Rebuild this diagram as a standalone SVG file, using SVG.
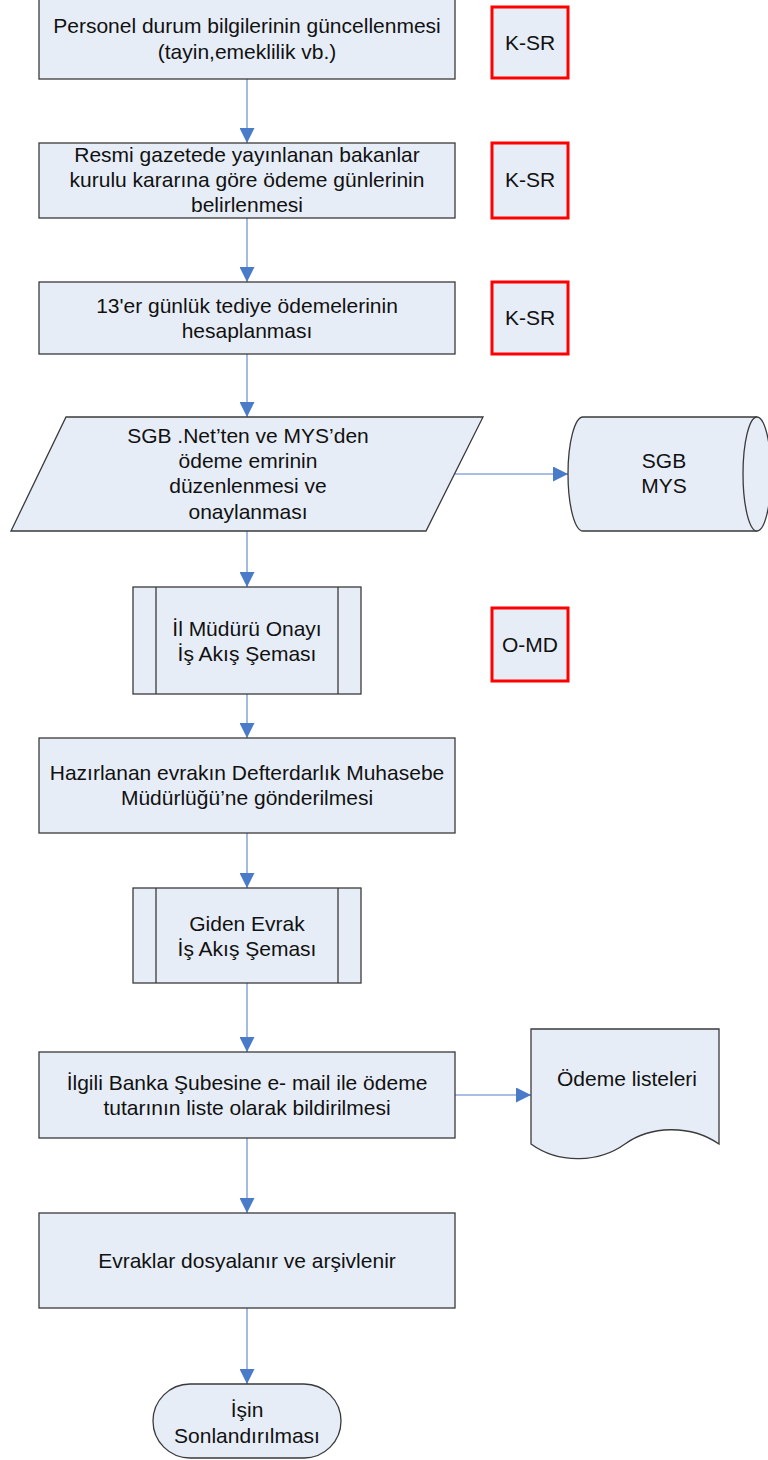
<svg xmlns="http://www.w3.org/2000/svg" width="768" height="1460" viewBox="0 0 768 1460">
<style>
.s{fill:#E7EDF7;stroke:#3a3a3a;stroke-width:1.3}
.r{fill:#E7EDF7;stroke:#FF0000;stroke-width:3}
.t{font-family:"Liberation Sans",Arial,sans-serif;font-size:21px;fill:#111;text-anchor:middle}
.c{stroke:#8EA9DB;stroke-width:1.6;fill:none}
</style>
<defs>
<marker id="a" markerUnits="userSpaceOnUse" markerWidth="15" markerHeight="15" refX="15" refY="7.5" orient="auto">
<path d="M0,0 L15,7.5 L0,15 Z" fill="#4A7BC8"/>
</marker>
</defs>
<rect width="768" height="1460" fill="#fff"/>
<g id="connectors">
<line class="c" x1="247" y1="79" x2="247" y2="143" marker-end="url(#a)"/>
<line class="c" x1="247" y1="218" x2="247" y2="282" marker-end="url(#a)"/>
<line class="c" x1="247" y1="354" x2="247" y2="417" marker-end="url(#a)"/>
<line class="c" x1="455" y1="474" x2="568" y2="474" marker-end="url(#a)"/>
<line class="c" x1="247" y1="531" x2="247" y2="587" marker-end="url(#a)"/>
<line class="c" x1="247" y1="694" x2="247" y2="738" marker-end="url(#a)"/>
<line class="c" x1="247" y1="833" x2="247" y2="888" marker-end="url(#a)"/>
<line class="c" x1="247" y1="983" x2="247" y2="1052" marker-end="url(#a)"/>
<line class="c" x1="455" y1="1095" x2="531" y2="1095" marker-end="url(#a)"/>
<line class="c" x1="247" y1="1138" x2="247" y2="1213" marker-end="url(#a)"/>
<line class="c" x1="247" y1="1308" x2="247" y2="1384" marker-end="url(#a)"/>
</g>
<g id="n1">
<rect class="s" x="39" y="-1" width="416" height="80"/>
<text class="t" x="247" y="33">Personel durum bilgilerinin güncellenmesi</text>
<text class="t" x="247" y="59">(tayin,emeklilik vb.)</text>
</g>
<g id="r1">
<rect class="r" x="492" y="7" width="76" height="71"/>
<text class="t" x="530" y="50">K-SR</text>
</g>
<g id="n2">
<rect class="s" x="39" y="143" width="416" height="75"/>
<text class="t" x="247" y="162">Resmi gazetede yayınlanan bakanlar</text>
<text class="t" x="247" y="187">kurulu kararına göre ödeme günlerinin</text>
<text class="t" x="247" y="212">belirlenmesi</text>
</g>
<g id="r2">
<rect class="r" x="492" y="143" width="76" height="75"/>
<text class="t" x="530" y="187">K-SR</text>
</g>
<g id="n3">
<rect class="s" x="39" y="282" width="416" height="72"/>
<text class="t" x="247" y="313">13'er günlük tediye ödemelerinin</text>
<text class="t" x="247" y="338">hesaplanması</text>
</g>
<g id="r3">
<rect class="r" x="492" y="282" width="76" height="72"/>
<text class="t" x="530" y="325">K-SR</text>
</g>
<g id="n4">
<polygon class="s" points="66,417 483,417 426,531 11,531"/>
<text class="t" x="248" y="443">SGB .Net’ten ve MYS’den</text>
<text class="t" x="248" y="468">ödeme emrinin</text>
<text class="t" x="248" y="493">düzenlenmesi ve</text>
<text class="t" x="248" y="519">onaylanması</text>
</g>
<g id="n5">
<path class="s" d="M583,417 L757,417 A14,57 0 0 1 757,531 L583,531 A15,57 0 0 1 583,417 Z"/>
<path class="s" fill="none" d="M757,417 A14,57 0 0 0 757,531"/>
<text class="t" x="664" y="468">SGB</text>
<text class="t" x="664" y="493">MYS</text>
</g>
<g id="n6">
<rect class="s" x="133" y="587" width="228" height="107"/>
<line class="s" x1="156" y1="587" x2="156" y2="694"/>
<line class="s" x1="338" y1="587" x2="338" y2="694"/>
<text class="t" x="247" y="636">İl Müdürü Onayı</text>
<text class="t" x="247" y="661">İş Akış Şeması</text>
</g>
<g id="r4">
<rect class="r" x="492" y="608" width="76" height="73"/>
<text class="t" x="530" y="652">O-MD</text>
</g>
<g id="n7">
<rect class="s" x="39" y="738" width="416" height="95"/>
<text class="t" x="247" y="780">Hazırlanan evrakın Defterdarlık Muhasebe</text>
<text class="t" x="247" y="805">Müdürlüğü’ne gönderilmesi</text>
</g>
<g id="n8">
<rect class="s" x="133" y="888" width="228" height="95"/>
<line class="s" x1="156" y1="888" x2="156" y2="983"/>
<line class="s" x1="338" y1="888" x2="338" y2="983"/>
<text class="t" x="247" y="931">Giden Evrak</text>
<text class="t" x="247" y="956">İş Akış Şeması</text>
</g>
<g id="n9">
<rect class="s" x="39" y="1052" width="416" height="86"/>
<text class="t" x="247" y="1090">İlgili Banka Şubesine e- mail ile ödeme</text>
<text class="t" x="247" y="1115">tutarının liste olarak bildirilmesi</text>
</g>
<g id="n10">
<path class="s" d="M531,1029 H719 V1144 C690,1124 650,1126 625,1144 C600,1162 560,1165 531,1144 Z"/>
<text class="t" x="627" y="1086">Ödeme listeleri</text>
</g>
<g id="n11">
<rect class="s" x="39" y="1213" width="416" height="95"/>
<text class="t" x="247" y="1268">Evraklar dosyalanır ve arşivlenir</text>
</g>
<g id="n12">
<rect class="s" x="153" y="1384" width="188" height="74" rx="37" ry="37"/>
<text class="t" x="247" y="1417">İşin</text>
<text class="t" x="247" y="1443">Sonlandırılması</text>
</g>
</svg>
